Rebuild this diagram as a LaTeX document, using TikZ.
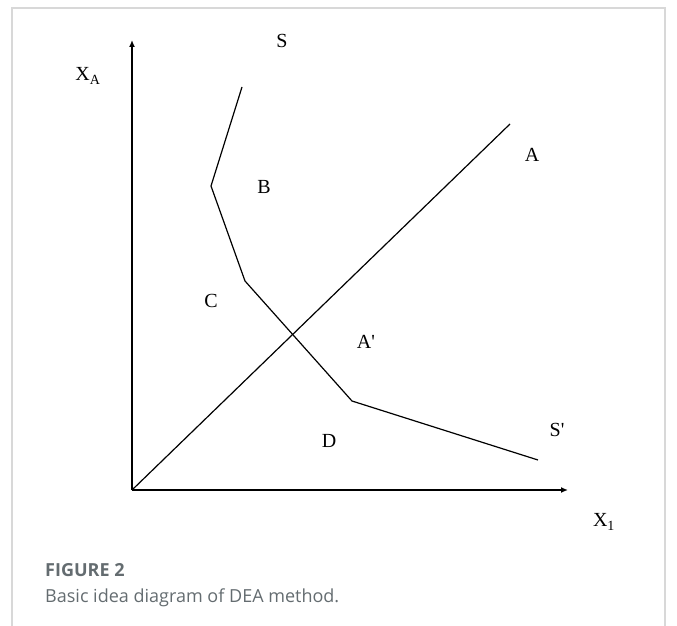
\documentclass[tikz,border=0pt]{standalone}
\usepackage{fontspec}
\setmainfont{Liberation Serif}
\newfontfamily\capfont{Open Sans}
\usetikzlibrary{arrows.meta}
\definecolor{framegray}{RGB}{216, 216, 216}
\definecolor{capgray}{RGB}{100, 108, 112}

\begin{document}
\begin{tikzpicture}[
    x=1pt, y=-1pt,
    lbl/.style={font=\fontsize{20}{22}\selectfont, inner sep=0pt},
    axis/.style={line width=1.6pt, -{Latex[length=7pt, width=6pt]}},
    curve/.style={line width=1.2pt, line join=miter},
    frame/.style={line width=1.4pt, draw=framegray},
    caption/.style={font=\capfont\fontsize{18}{21}\selectfont, text=capgray, anchor=west, inner sep=0pt}
]
    \useasboundingbox (0,0) rectangle (677,626);

    % Frame
    \coordinate (fbl) at (12,626);
    \coordinate (ftl) at (12,8);
    \coordinate (ftr) at (665,8);
    \coordinate (fbr) at (665,626);
    \draw[frame] (fbl) -- (ftl) -- (ftr) -- (fbr);

    % Axes
    \coordinate (O) at (132,490);
    \coordinate (ytop) at (132,40);
    \coordinate (xend) at (568,490);
    \draw[axis] (O) -- (ytop);
    \draw[axis] (O) -- (xend);
    \node[lbl] (xa) at (88,76) {X\textsubscript{A}};
    \node[lbl] (x1) at (604,522) {X\textsubscript{1}};

    % Frontier S-S'
    \coordinate (s0) at (242,87);
    \coordinate (s1) at (211,186);
    \coordinate (s2) at (245,281);
    \coordinate (s3) at (352,401);
    \coordinate (s4) at (538,460);
    \draw[curve] (s0) -- (s1) -- (s2) -- (s3) -- (s4);

    % Ray to A
    \coordinate (a) at (510,124);
    \draw[curve] (O) -- (a);

    % Point labels
    \node[lbl] (S) at (282,41) {S};
    \node[lbl] (A) at (532,155) {A};
    \node[lbl] (B) at (264,187) {B};
    \node[lbl] (C) at (211,301) {C};
    \node[lbl] (Ap) at (366,342) {A\textquotesingle};
    \node[lbl] (D) at (329,441) {D};
    \node[lbl] (Sp) at (557,430) {S\textquotesingle};

    % Caption
    \node[caption, font=\capfont\bfseries\fontsize{18}{21}\selectfont] (fig) at (45,570) {FIGURE 2};
    \node[caption] (cap) at (45,598) {Basic idea diagram of DEA method.};
\end{tikzpicture}
\end{document}
